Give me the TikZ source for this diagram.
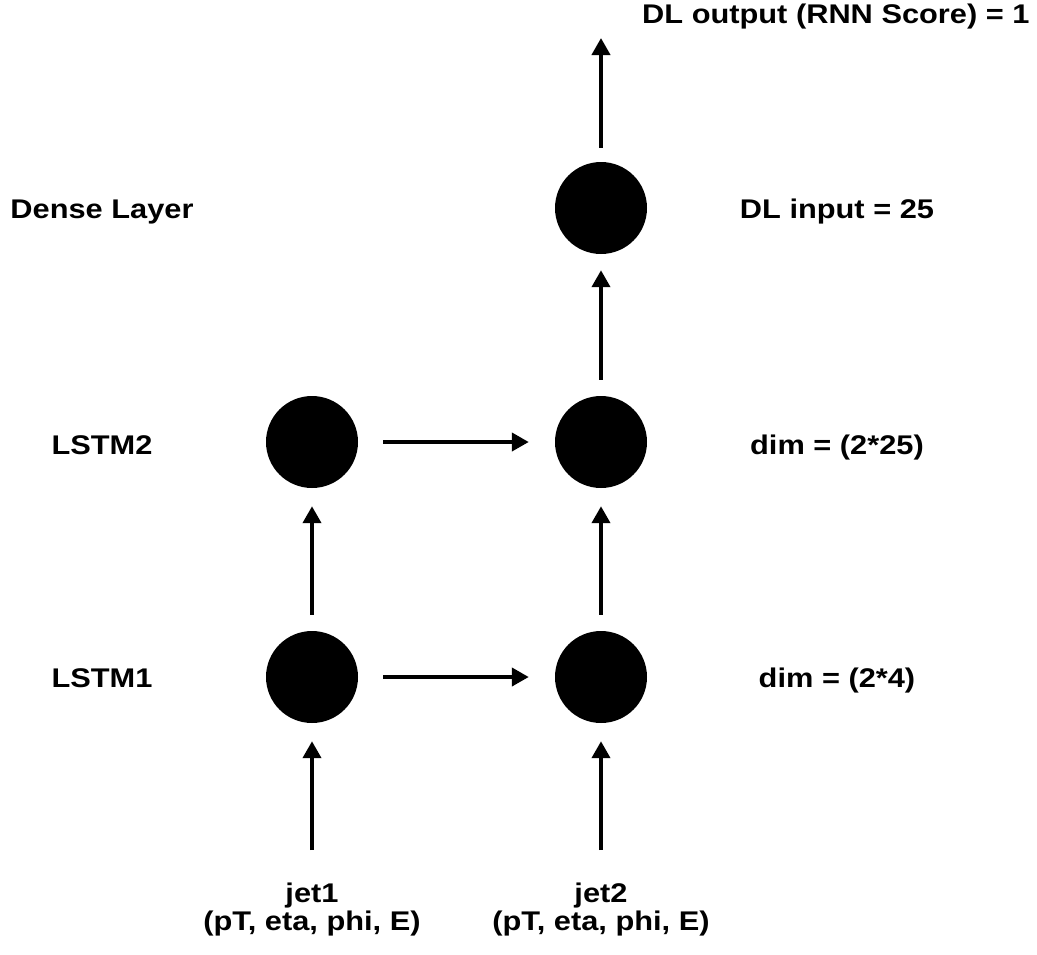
\documentclass[tikz,border=0pt]{standalone}
\usepackage{fontspec}
\setmainfont[FakeStretch=1.14]{Liberation Sans}
\usetikzlibrary{arrows.meta}
\begin{document}
\begin{tikzpicture}[x=1pt,y=-1pt,
  neuron/.style={circle,fill=black,draw=none,minimum size=92pt,inner sep=0pt},
  lbl/.style={inner sep=0pt,font=\fontsize{27pt}{28pt}\selectfont\bfseries},
  flow/.style={line width=4pt,-{Triangle[length=17pt,width=18pt]}}]
\useasboundingbox (0,0) rectangle (1037,954);
% recurrent cells and the dense layer
\node[neuron] (a1) at (312,677) {};
\node[neuron] (b1) at (601,677) {};
\node[neuron] (a2) at (312,442) {};
\node[neuron] (b2) at (601,442) {};
\node[neuron] (d)  at (601,208) {};
\coordinate (out) at (601,38);
% row and column labels
\node[lbl,anchor=base west] (outtxt) at (642,23) {DL output (RNN Score) = 1};
\node[lbl,anchor=base] (dl)  at (102,218) {Dense Layer};
\node[lbl,anchor=base] (l2)  at (102,454) {LSTM2};
\node[lbl,anchor=base] (l1)  at (102,687) {LSTM1};
\node[lbl,anchor=base] (din) at (837,218) {DL input = 25};
\node[lbl,anchor=base] (dim2) at (837,454) {dim = (2*25)};
\node[lbl,anchor=base] (dim1) at (837,687) {dim = (2*4)};
\node[lbl,anchor=north,align=center] (j1) at (312,883) {jet1\\(pT, eta, phi, E)};
\node[lbl,anchor=north,align=center] (j2) at (601,883) {jet2\\(pT, eta, phi, E)};
% connections
\draw[flow,shorten <=33pt,shorten >=18pt] (j1.north) -- (a1.south);
\draw[flow,shorten <=33pt,shorten >=18pt] (j2.north) -- (b1.south);
\draw[flow,shorten <=16pt,shorten >=18pt] (a1.north) -- (a2.south);
\draw[flow,shorten <=16pt,shorten >=18pt] (b1.north) -- (b2.south);
\draw[flow,shorten <=25pt,shorten >=26pt] (a1.east) -- (b1.west);
\draw[flow,shorten <=25pt,shorten >=26pt] (a2.east) -- (b2.west);
\draw[flow,shorten <=16pt,shorten >=16pt] (b2.north) -- (d.south);
\draw[flow,shorten <=14pt] (d.north) -- (out);
\end{tikzpicture}
\end{document}
